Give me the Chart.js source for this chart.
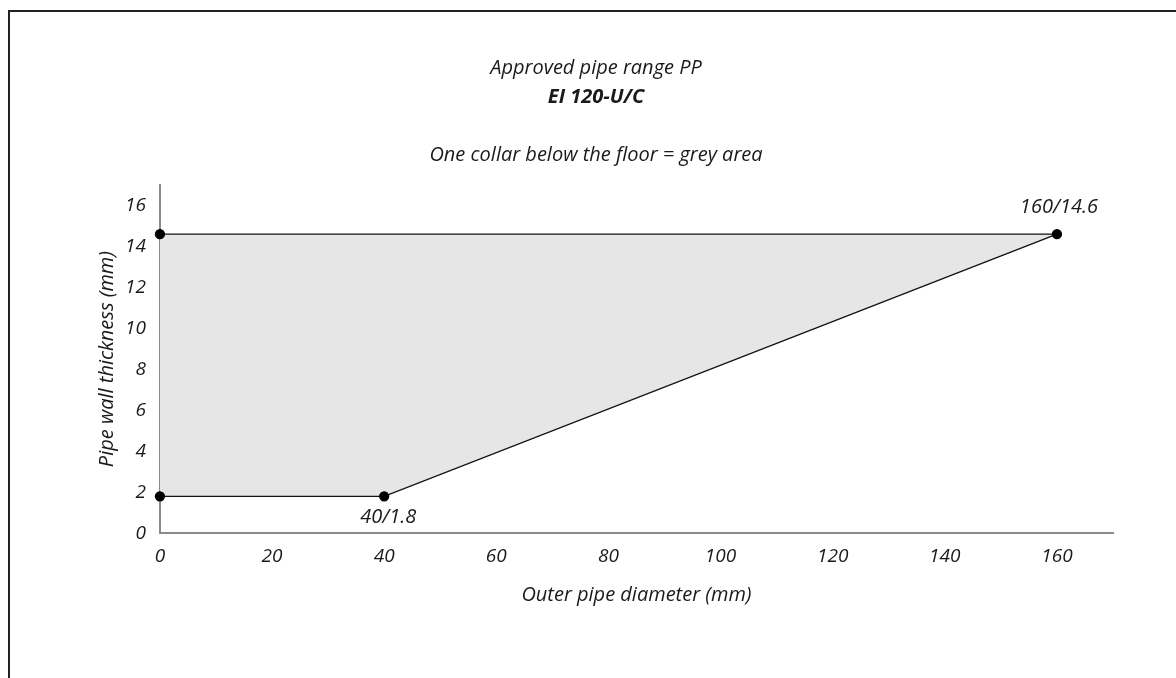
<!DOCTYPE html>
<html>
<head>
<meta charset="utf-8">
<script src="https://cdn.jsdelivr.net/npm/chart.js@4.4.1/dist/chart.umd.min.js"></script>
<style>
  html, body { margin: 0; padding: 0; background: #fff; }
  #wrap { position: relative; width: 1176px; height: 678px; }
  #frame { position: absolute; left: 8px; top: 10px; right: 0; bottom: 0; border-top: 2px solid #222; border-left: 2px solid #222; }
  canvas { position: absolute; left: 0; top: 0; }
</style>
</head>
<body>
<div id="wrap">
  <div id="frame"></div>
  <canvas id="rangeChart" width="1176" height="678"></canvas>
</div>
<script>
const diameters = [0, 40, 160, 0, 0];
const thickness = [1.8, 1.8, 14.6, 14.6, 1.8];
const pointLabels = ['', '40/1.8', '160/14.6', '', ''];
const xTicks = [0, 20, 40, 60, 80, 100, 120, 140, 160];
const yTicks = [0, 2, 4, 6, 8, 10, 12, 14, 16];
const headings = ['Approved pipe range PP', 'EI 120-U/C', 'One collar below the floor = grey area'];

const FONT = '"Open Sans", "Noto Sans", sans-serif';

document.addEventListener('DOMContentLoaded', function() {

    const headingPlugin = {
        id: 'headings',
        afterDraw(chart) {
            const ctx = chart.ctx;
            ctx.save();
            ctx.fillStyle = '#1a1a1a';
            ctx.textAlign = 'center';
            ctx.textBaseline = 'middle';
            ctx.font = 'italic 20px ' + FONT;
            ctx.fillText(headings[0], 596, 68);
            ctx.font = 'italic bold 20px ' + FONT;
            ctx.fillText(headings[1], 596, 97);
            ctx.font = 'italic 20px ' + FONT;
            ctx.fillText(headings[2], 596, 155);
            ctx.restore();
        }
    };

    const labelPlugin = {
        id: 'pointLabels',
        afterDatasetsDraw(chart) {
            const ctx = chart.ctx;
            const xs = chart.scales.x, ys = chart.scales.y;
            ctx.save();
            ctx.fillStyle = '#1a1a1a';
            ctx.textAlign = 'center';
            ctx.textBaseline = 'middle';
            ctx.font = 'italic 20px ' + FONT;
            pointLabels.forEach((lbl, i) => {
                if (!lbl) return;
                const px = xs.getPixelForValue(diameters[i]);
                const py = ys.getPixelForValue(thickness[i]);
                const above = thickness[i] > 10;
                ctx.fillText(lbl, above ? px + 2 : px + 4, above ? py - 27 : py + 21);
            });
            ctx.restore();
        }
    };

    const ctx = document.getElementById('rangeChart');
    new Chart(ctx.getContext('2d'), {
        type: 'scatter',
        data: {
            datasets: [{
                data: diameters.map((d, i) => ({ x: d, y: thickness[i] })),
                showLine: true,
                clip: false,
                borderColor: '#111',
                borderWidth: 1.3,
                backgroundColor: '#e6e6e6',
                fill: 'shape',
                tension: 0,
                pointRadius: (c) => c.dataIndex < 4 ? 4.5 : 0,
                pointBackgroundColor: '#000',
                pointBorderColor: '#000',
                segment: {
                    borderColor: (c) => c.p0DataIndex === 3 ? 'rgba(0,0,0,0)' : '#111'
                }
            }]
        },
        options: {
            responsive: false,
            animation: false,
            layout: { padding: { top: 185, left: 91, right: 63, bottom: 67 } },
            plugins: {
                legend: { display: false },
                tooltip: { enabled: false }
            },
            scales: {
                x: {
                    type: 'linear',
                    min: 0,
                    max: 170,
                    afterBuildTicks: (axis) => { axis.ticks = xTicks.map(v => ({ value: v })); },
                    grid: { display: false },
                    border: { display: true, color: '#8a8a8a', width: 2 },
                    ticks: { color: '#1a1a1a', font: { family: FONT, size: 19, style: 'italic' }, padding: 4 },
                    title: { display: true, text: 'Outer pipe diameter (mm)', color: '#1a1a1a', font: { family: FONT, size: 20, style: 'italic' }, padding: { top: 11 } }
                },
                y: {
                    type: 'linear',
                    min: 0,
                    max: 17,
                    afterBuildTicks: (axis) => { axis.ticks = yTicks.map(v => ({ value: v })); },
                    grid: { display: false },
                    border: { display: true, color: '#8a8a8a', width: 2 },
                    ticks: { color: '#1a1a1a', font: { family: FONT, size: 19, style: 'italic' }, padding: 6 },
                    title: { display: true, text: 'Pipe wall thickness (mm)', color: '#1a1a1a', font: { family: FONT, size: 20, style: 'italic' }, padding: { bottom: 0 } }
                }
            }
        },
        plugins: [headingPlugin, labelPlugin]
    });
});
</script>
</body>
</html>
